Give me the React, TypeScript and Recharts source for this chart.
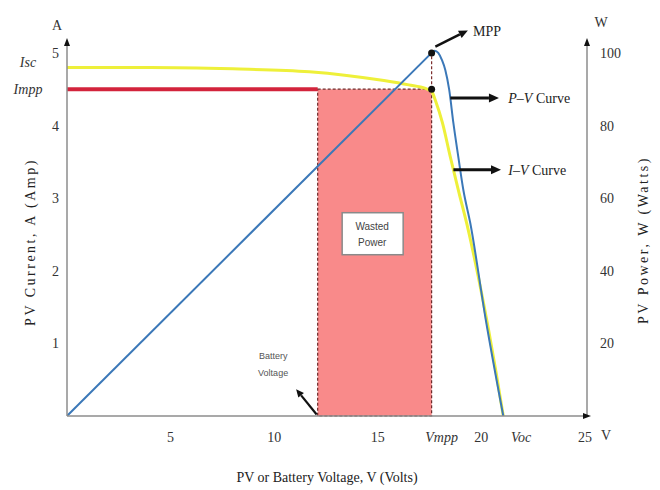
import {
  ComposedChart,
  Label,
  Line,
  ReferenceArea,
  ReferenceDot,
  ReferenceLine,
  XAxis,
  YAxis,
} from 'recharts'

// I-V curve (Amps) and P-V curve (Watts)
const IV_VOLTS = [0, 4, 8, 11.7, 13.5, 15.3, 16.5, 17.3, 17.6, 17.8, 18.12, 18.5, 18.89, 19.37, 19.85, 20.34, 20.7, 21.06]
const IV_AMPS = [4.8, 4.8, 4.78, 4.74, 4.69, 4.62, 4.56, 4.51, 4.47, 4.33, 4.04, 3.57, 3.11, 2.56, 1.92, 1.2, 0.62, 0]
const PV_VOLTS = [0, 17.6, 17.75, 17.92, 18.1, 18.26, 18.45, 18.65, 18.89, 19.13, 19.47, 20.2, 21.06]
const PV_WATTS = [0, 100, 100.6, 100, 98, 95.3, 89.8, 80.7, 71.3, 62.3, 53, 27, 0]

const VMPP = 17.6
const IMPP = 4.5
const ISC = 4.8
const VOC = 21.1
const V_BATTERY = 12.1
const P_MAX = 100

const X_TICKS = [5, 10, 15, VMPP, 20, VOC, 25]
const AMP_TICKS = [1, 2, 3, 4, IMPP, ISC, 5]
const WATT_TICKS = [20, 40, 60, 80, 100]

const X_MAX = 25.1
const AMP_MAX = 5.15
const WATT_MAX = 103

const ivData = IV_VOLTS.map((v, i) => ({ v, i: IV_AMPS[i] }))
const pvData = PV_VOLTS.map((v, i) => ({ v, p: PV_WATTS[i] }))
// straight rise up to the MPP, smooth knee after it
const pvRise = pvData.filter((d) => d.v <= VMPP)
const pvFall = pvData.filter((d) => d.v >= VMPP)
const imppData = [
  { v: 0, i: IMPP },
  { v: V_BATTERY, i: IMPP },
]

const serif = '"Liberation Serif", "DejaVu Serif", serif'
const sans = '"Liberation Sans", Arial, sans-serif'
const axisLine = { stroke: '#8c8c8c', strokeWidth: 1.5 }

function XTick({ x, y, payload }: any) {
  const v = payload.value
  if (v === VMPP || v === VOC) {
    return (
      <text x={x + (v === VMPP ? 10 : 17)} y={y + 18} textAnchor="middle" fontFamily={serif} fontSize={14} fontStyle="italic" fill="#333">
        {v === VMPP ? 'Vmpp' : 'Voc'}
      </text>
    )
  }
  return (
    <text x={x} y={y + 18} textAnchor="middle" fontFamily={serif} fontSize={14} fill="#333">
      {v}
    </text>
  )
}

function AmpTick({ x, y, payload }: any) {
  const v = payload.value
  if (v === ISC || v === IMPP) {
    return (
      <text x={x - 31} y={y + (v === ISC ? 0 : 5)} textAnchor="middle" fontFamily={serif} fontSize={14} fontStyle="italic" fill="#333">
        {v === ISC ? 'Isc' : 'Impp'}
      </text>
    )
  }
  return (
    <text x={x} y={y + 5} textAnchor="end" fontFamily={serif} fontSize={14} fill="#333">
      {v}
    </text>
  )
}

function WattTick({ x, y, payload }: any) {
  return (
    <text x={x + 5} y={y + 5} textAnchor="start" fontFamily={serif} fontSize={14} fill="#333">
      {payload.value}
    </text>
  )
}

function arrow(p: any, width: number, head: number) {
  const { x1, y1, x2, y2 } = p
  const a = Math.atan2(y2 - y1, x2 - x1)
  const bx = x2 - head * Math.cos(a)
  const by = y2 - head * Math.sin(a)
  const hw = head * 0.45
  const pts = [
    [x2, y2],
    [bx + hw * Math.sin(a), by - hw * Math.cos(a)],
    [bx - hw * Math.sin(a), by + hw * Math.cos(a)],
  ]
  return (
    <g>
      <line x1={x1} y1={y1} x2={bx} y2={by} stroke="#111" strokeWidth={width} />
      <polygon points={pts.map((q) => q.join(',')).join(' ')} fill="#111" />
    </g>
  )
}

function curveText(italic: string, rest: string) {
  return (p: any) => (
    <text x={p.cx} y={p.cy + 5} fontFamily={serif} fontSize={14} fill="#222">
      <tspan fontStyle="italic">{italic}</tspan>
      <tspan>{rest}</tspan>
    </text>
  )
}

export default function App() {
  return (
    <ComposedChart width={652} height={480} margin={{ top: 34, right: 0, bottom: 0, left: 0 }}>
      <XAxis
        type="number"
        dataKey="v"
        domain={[0, X_MAX]}
        ticks={X_TICKS}
        interval={0}
        tickLine={false}
        axisLine={axisLine}
        height={72}
        tick={<XTick />}
        allowDataOverflow
      >
        <Label
          content={({ viewBox }: any) => (
            <text x={viewBox.x + viewBox.width / 2} y={viewBox.y + 66} textAnchor="middle" fontFamily={serif} fontSize={14} fill="#222">
              PV or Battery Voltage, V (Volts)
            </text>
          )}
        />
      </XAxis>
      <YAxis
        yAxisId="amp"
        type="number"
        domain={[0, AMP_MAX]}
        ticks={AMP_TICKS}
        interval={0}
        tickLine={false}
        axisLine={axisLine}
        width={59}
        tick={<AmpTick />}
        allowDataOverflow
      >
        <Label
          content={({ viewBox }: any) => {
            const cx = viewBox.x + 22
            const cy = viewBox.y + viewBox.height / 2 + 13
            return (
              <text x={cx} y={cy} transform={`rotate(-90 ${cx} ${cy})`} textAnchor="middle" dominantBaseline="central" fontFamily={serif} fontSize={14} letterSpacing={2.5} fill="#222">
                PV Current, A (Amp)
              </text>
            )
          }}
        />
      </YAxis>
      <YAxis
        yAxisId="watt"
        orientation="right"
        type="number"
        domain={[0, WATT_MAX]}
        ticks={WATT_TICKS}
        interval={0}
        tickLine={false}
        axisLine={axisLine}
        width={73}
        tick={<WattTick />}
        allowDataOverflow
      >
        <Label
          content={({ viewBox }: any) => {
            const cx = viewBox.x + 56
            const cy = viewBox.y + viewBox.height / 2 + 11
            return (
              <text x={cx} y={cy} transform={`rotate(-90 ${cx} ${cy})`} textAnchor="middle" dominantBaseline="central" fontFamily={serif} fontSize={14} letterSpacing={2.5} fill="#222">
                PV Power, W (Watts)
              </text>
            )
          }}
        />
      </YAxis>

      <ReferenceArea
        yAxisId="amp"
        x1={V_BATTERY}
        x2={VMPP}
        y1={0}
        y2={IMPP}
        fill="#f98a8a"
        fillOpacity={1}
        stroke="#6e2b2b"
        strokeWidth={1.2}
        strokeDasharray="3 2"
        ifOverflow="visible"
      />
      <ReferenceLine
        yAxisId="amp"
        segment={[
          { x: VMPP, y: IMPP },
          { x: VMPP, y: P_MAX / 20 },
        ]}
        stroke="#7b2b2b"
        strokeWidth={1.2}
        strokeDasharray="3 2"
        ifOverflow="visible"
      />

      <Line yAxisId="amp" data={imppData} dataKey="i" type="linear" stroke="#d3243c" strokeWidth={4} dot={false} activeDot={false} isAnimationActive={false} />
      <Line yAxisId="amp" data={ivData} dataKey="i" type="monotone" stroke="#eef03a" strokeWidth={3} dot={false} activeDot={false} isAnimationActive={false} />
      <Line yAxisId="watt" data={pvRise} dataKey="p" type="linear" stroke="#3b78b8" strokeWidth={2} dot={false} activeDot={false} isAnimationActive={false} />
      <Line yAxisId="watt" data={pvFall} dataKey="p" type="monotone" stroke="#3b78b8" strokeWidth={2} dot={false} activeDot={false} isAnimationActive={false} />

      <ReferenceDot yAxisId="amp" x={VMPP} y={IMPP} r={3.5} fill="#111" stroke="none" ifOverflow="visible" />
      <ReferenceDot yAxisId="watt" x={VMPP} y={P_MAX} r={3.5} fill="#111" stroke="none" ifOverflow="visible" />

      {/* annotation arrows */}
      <ReferenceLine yAxisId="watt" segment={[{ x: 17.78, y: 101.7 }, { x: 19.35, y: 106.2 }]} ifOverflow="visible" shape={(p: any) => arrow(p, 2.5, 9)} />
      <ReferenceLine yAxisId="amp" segment={[{ x: 18.5, y: 4.38 }, { x: 20.85, y: 4.38 }]} ifOverflow="visible" shape={(p: any) => arrow(p, 3, 10)} />
      <ReferenceLine yAxisId="amp" segment={[{ x: 18.65, y: 3.39 }, { x: 20.95, y: 3.39 }]} ifOverflow="visible" shape={(p: any) => arrow(p, 3, 10)} />
      <ReferenceLine yAxisId="amp" segment={[{ x: 12.05, y: 0.02 }, { x: 11.06, y: 0.37 }]} ifOverflow="visible" shape={(p: any) => arrow(p, 2.2, 8)} />

      <ReferenceDot
        yAxisId="watt"
        x={19.6}
        y={106}
        ifOverflow="visible"
        shape={(p: any) => (
          <text x={p.cx} y={p.cy + 5} fontFamily={serif} fontSize={14} fill="#222">
            MPP
          </text>
        )}
      />
      <ReferenceDot yAxisId="amp" x={21.3} y={4.38} ifOverflow="visible" shape={curveText('P–V', ' Curve')} />
      <ReferenceDot yAxisId="amp" x={21.3} y={3.39} ifOverflow="visible" shape={curveText('I–V', ' Curve')} />
      <ReferenceDot
        yAxisId="amp"
        x={9.95}
        y={0.72}
        ifOverflow="visible"
        shape={(p: any) => (
          <text x={p.cx} y={p.cy} textAnchor="middle" fontFamily={sans} fontSize={9} fill="#555">
            <tspan x={p.cx} dy={-5}>Battery</tspan>
            <tspan x={p.cx} dy={17}>Voltage</tspan>
          </text>
        )}
      />
      <ReferenceDot
        yAxisId="amp"
        x={14.73}
        y={2.51}
        ifOverflow="visible"
        shape={(p: any) => (
          <g>
            <rect x={p.cx - 30} y={p.cy - 21} width={61} height={42} fill="#fff" stroke="#8a8a8a" strokeWidth={1.5} />
            <text x={p.cx} y={p.cy} textAnchor="middle" fontFamily={sans} fontSize={10} fill="#444">
              <tspan x={p.cx} dy={-4}>Wasted</tspan>
              <tspan x={p.cx} dy={16}>Power</tspan>
            </text>
          </g>
        )}
      />

      {/* axis arrowheads and unit letters */}
      <ReferenceDot
        yAxisId="amp"
        x={0}
        y={AMP_MAX}
        ifOverflow="visible"
        shape={(p: any) => (
          <g>
            <polygon points={`${p.cx},${p.cy - 4} ${p.cx - 3},${p.cy + 4} ${p.cx + 3},${p.cy + 4}`} fill="#111" />
            <text x={p.cx - 10} y={p.cy - 12} textAnchor="middle" fontFamily={serif} fontSize={14} fill="#333">
              A
            </text>
          </g>
        )}
      />
      <ReferenceDot
        yAxisId="watt"
        x={X_MAX}
        y={WATT_MAX}
        ifOverflow="visible"
        shape={(p: any) => (
          <g>
            <polygon points={`${p.cx},${p.cy - 4} ${p.cx - 3},${p.cy + 4} ${p.cx + 3},${p.cy + 4}`} fill="#111" />
            <text x={p.cx + 14} y={p.cy - 15} textAnchor="middle" fontFamily={serif} fontSize={14} fill="#333">
              W
            </text>
          </g>
        )}
      />
      <ReferenceDot
        yAxisId="amp"
        x={X_MAX}
        y={0}
        ifOverflow="visible"
        shape={(p: any) => (
          <g>
            <polygon points={`${p.cx + 4},${p.cy} ${p.cx - 4},${p.cy - 3} ${p.cx - 4},${p.cy + 3}`} fill="#111" />
            <text x={p.cx + 19} y={p.cy + 24} textAnchor="middle" fontFamily={serif} fontSize={14} fill="#333">
              V
            </text>
          </g>
        )}
      />
    </ComposedChart>
  )
}
